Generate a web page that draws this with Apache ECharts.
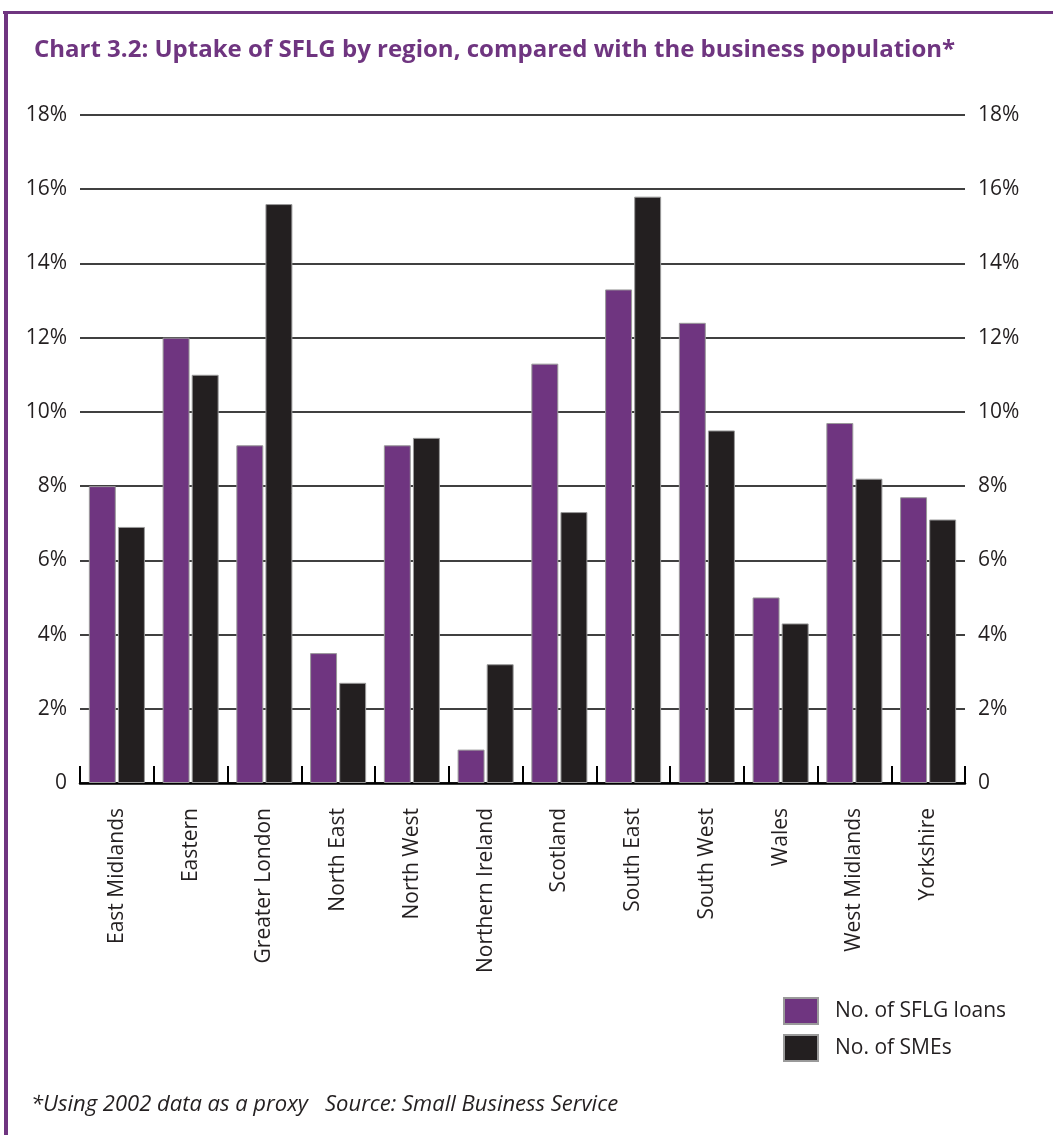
<!DOCTYPE html>
<html>
<head>
<meta charset="utf-8">
<script src="https://cdn.jsdelivr.net/npm/echarts@6/dist/echarts.min.js"></script>
<style>
  html, body { margin: 0; padding: 0; background: #fff; }
  #main { width: 1053px; height: 1135px; }
</style>
</head>
<body>
<div id="main"></div>
<script>
// regions (percent)
const regions = ['East Midlands', 'Eastern', 'Greater London', 'North East', 'North West',
  'Northern Ireland', 'Scotland', 'South East', 'South West', 'Wales', 'West Midlands', 'Yorkshire'];
const sflgLoans = [8.0, 12.0, 9.1, 3.5, 9.1, 0.9, 11.3, 13.3, 12.4, 5.0, 9.7, 7.7];
const smes = [6.9, 11.0, 15.6, 2.7, 9.3, 3.2, 7.3, 15.8, 9.5, 4.3, 8.2, 7.1];

const purple = '#6f3580';
const ink = '#231f20';
const font = '"Open Sans"';

const chart = echarts.init(document.getElementById('main'));

const pctLabel = v => v === 0 ? '0' : v + '%';

const yAxisBase = {
  type: 'value',
  min: 0,
  max: 18,
  interval: 2,
  axisLine: { show: false },
  axisTick: { show: false },
  axisLabel: { color: ink, fontSize: 21, fontFamily: font, margin: 13, formatter: pctLabel }
};

chart.setOption({
  animation: false,
  textStyle: { fontFamily: font },
  title: {
    text: 'Chart 3.2: Uptake of SFLG by region, compared with the business population*',
    left: 29,
    top: 33,
    textStyle: { color: purple, fontSize: 24, fontWeight: 'bold', fontFamily: font }
  },
  legend: {
    orient: 'vertical',
    left: 783,
    top: 997,
    padding: 0,
    itemWidth: 34,
    itemHeight: 26,
    itemGap: 9,
    icon: 'rect',
    textStyle: { color: ink, fontSize: 21, fontFamily: font, padding: [0, 0, 0, 12] },
    data: ['No. of SFLG loans', 'No. of SMEs']
  },
  grid: { left: 80, right: 88, top: 115, bottom: 352 },
  xAxis: {
    type: 'category',
    data: regions,
    axisLine: { lineStyle: { color: '#000', width: 2.5 } },
    axisTick: { show: true, inside: true, length: 17, lineStyle: { color: '#000', width: 2 } },
    axisLabel: { rotate: 90, color: ink, fontSize: 21, fontFamily: font, margin: 25, interval: 0 }
  },
  yAxis: [
    Object.assign({}, yAxisBase, {
      position: 'left',
      splitLine: { show: true, lineStyle: { color: '#000', width: 1.5 } }
    }),
    Object.assign({}, yAxisBase, {
      position: 'right',
      splitLine: { show: false }
    })
  ],
  series: [
    {
      name: 'No. of SFLG loans',
      type: 'bar',
      data: sflgLoans,
      barGap: '8%',
      barCategoryGap: '24%',
      itemStyle: { color: purple, borderColor: '#9a9a9a', borderWidth: 1 }
    },
    {
      name: 'No. of SMEs',
      type: 'bar',
      data: smes,
      itemStyle: { color: ink, borderColor: '#9a9a9a', borderWidth: 1 }
    }
  ],
  graphic: [
    { type: 'rect', shape: { x: 3, y: 11, width: 1060, height: 3 }, style: { fill: purple } },
    { type: 'rect', shape: { x: 4, y: 11, width: 4, height: 1130 }, style: { fill: purple } },
    {
      type: 'text',
      left: 31,
      top: 1094,
      style: {
        text: '*Using 2002 data as a proxy   Source: Small Business Service',
        fill: ink,
        fontSize: 22,
        fontStyle: 'italic',
        fontFamily: font
      }
    }
  ]
});
</script>
</body>
</html>
